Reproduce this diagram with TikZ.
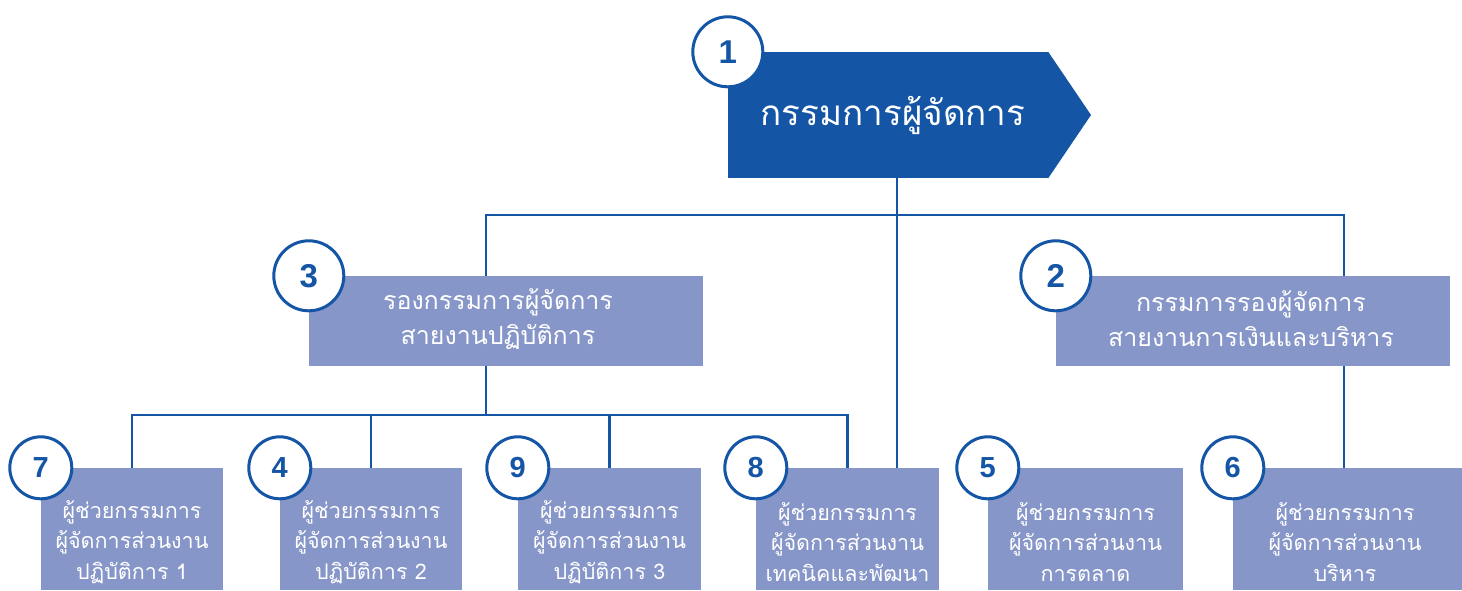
\documentclass[tikz,border=0pt]{standalone}
\usepackage{fontspec}
\newfontfamily\thai[Script=Thai]{Loma}
\newfontfamily\numfont{Liberation Sans}
\definecolor{dblue}{HTML}{1455A6}
\definecolor{lbox}{HTML}{8796C9}
\tikzset{
  topbox/.style={fill=dblue, draw=none, minimum width=320, minimum height=126, inner sep=0},
  midbox/.style={fill=lbox, draw=none, minimum width=394, minimum height=90, inner sep=0},
  lowbox/.style={fill=lbox, draw=none, minimum height=122, inner sep=0},
  numbig/.style={circle, draw=dblue, line width=3, fill=white, minimum size=70, inner sep=0, text=dblue, font=\numfont\bfseries\fontsize{33}{33}\selectfont},
  numsmall/.style={circle, draw=dblue, line width=3, fill=white, minimum size=62, inner sep=0, text=dblue, font=\numfont\bfseries\fontsize{29}{29}\selectfont},
  toptext/.style={text=white, font=\thai\fontsize{35}{40}\selectfont, inner sep=0},
  midtext/.style={text=white, align=center, font=\thai\fontsize{25}{35}\selectfont, inner sep=0},
  lowtext/.style={text=white, align=center, font=\thai\fontsize{21.5}{30.5}\selectfont, inner sep=0},
  conn/.style={draw=dblue, line width=2.6},
}
\begin{document}
\begin{tikzpicture}[x=1pt,y=-1pt]
\useasboundingbox (0,0) rectangle (1462,590);
% top box
\node[topbox] (b1) at (888,115) {};
\fill[dblue] (b1.north east) -- (1091,115) -- (b1.south east) -- cycle;
\node[toptext] (t1) at (893,115) {กรรมการผู้จัดการ};
% mid boxes
\node[midbox] (b3) at (506,321) {};
\node[midtext] (t3) at (498,319) {รองกรรมการผู้จัดการ\\สายงานปฏิบัติการ};
\node[midbox] (b2) at (1253,321) {};
\node[midtext] (t2) at (1251,319) {กรรมการรองผู้จัดการ\\สายงานการเงินและบริหาร};
% low boxes
\node[lowbox, minimum width=182] (b7) at (132,529) {};
\node[lowbox, minimum width=182] (b4) at (371,529) {};
\node[lowbox, minimum width=183] (b9) at (609.5,529) {};
\node[lowbox, minimum width=183] (b8) at (847.5,529) {};
\node[lowbox, minimum width=195] (b5) at (1085.5,529) {};
\node[lowbox, minimum width=229] (b6) at (1347.5,529) {};
\node[lowtext] (t7) at (132,542) {ผู้ช่วยกรรมการ\\ผู้จัดการส่วนงาน\\ปฏิบัติการ 1};
\node[lowtext] (t4) at (371,542) {ผู้ช่วยกรรมการ\\ผู้จัดการส่วนงาน\\ปฏิบัติการ 2};
\node[lowtext] (t9) at (609.5,542) {ผู้ช่วยกรรมการ\\ผู้จัดการส่วนงาน\\ปฏิบัติการ 3};
\node[lowtext] (t8) at (847.5,542) {ผู้ช่วยกรรมการ\\ผู้จัดการส่วนงาน\\เทคนิคและพัฒนา};
\node[lowtext] (t5) at (1085.5,542) {ผู้ช่วยกรรมการ\\ผู้จัดการส่วนงาน\\การตลาด};
\node[lowtext] (t6) at (1345,542) {ผู้ช่วยกรรมการ\\ผู้จัดการส่วนงาน\\บริหาร};
% junctions
\coordinate (j1) at (897,215);
\coordinate (h1) at (486,215);
\coordinate (h2) at (1344,215);
\coordinate (h3) at (486,415);
% connectors
\draw[conn] (b1.south -| j1) -- (b8.north -| j1);
\draw[conn] (b3.north -| h1) -- (h1) -- (h2) -- (b2.north -| h2);
\draw[conn] (b3.south -| h3) -- (h3);
\draw[conn] (b7.north) -- (b7.north |- h3) -- (b8.north |- h3) -- (b8.north);
\draw[conn] (b4.north) -- (b4.north |- h3);
\draw[conn] (b9.north) -- (b9.north |- h3);
\draw[conn] (b2.south -| h2) -- (b6.north -| h2);
% number circles
\node[numbig] (n1) at (b1.north west) {1};
\node[numbig] (n3) at (b3.north west) {3};
\node[numbig] (n2) at (b2.north west) {2};
\node[numsmall] (n7) at (b7.north west) {7};
\node[numsmall] (n4) at (b4.north west) {4};
\node[numsmall] (n9) at (b9.north west) {9};
\node[numsmall] (n8) at (b8.north west) {8};
\node[numsmall] (n5) at (b5.north west) {5};
\node[numsmall] (n6) at (b6.north west) {6};
\end{tikzpicture}
\end{document}
